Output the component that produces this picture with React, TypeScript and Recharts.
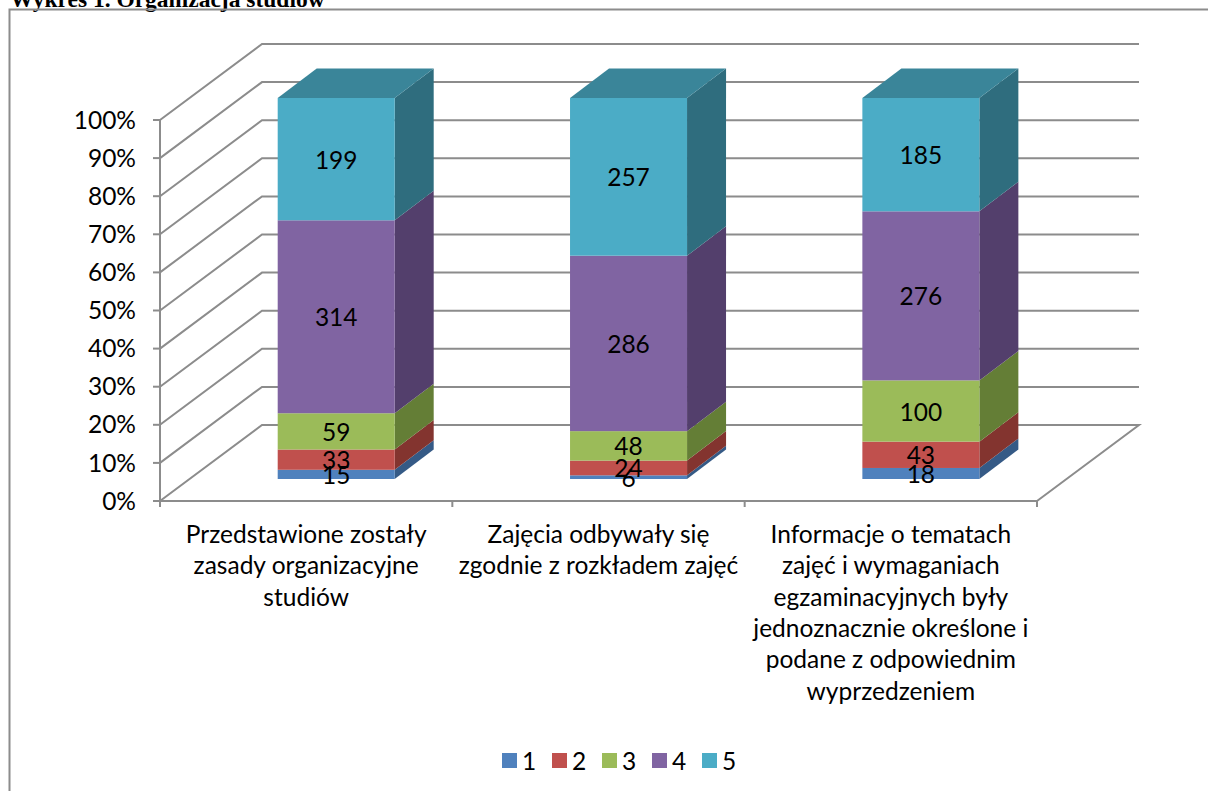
import { BarChart, Bar, XAxis, YAxis, CartesianGrid } from "recharts";

// --- data ---
const CATEGORY_LINES = [
  ["Przedstawione zostały", "zasady organizacyjne", "studiów"],
  ["Zajęcia odbywały się", "zgodnie z rozkładem zajęć"],
  [
    "Informacje o tematach",
    "zajęć i wymaganiach",
    "egzaminacyjnych były",
    "jednoznacznie określone i",
    "podane z odpowiednim",
    "wyprzedzeniem",
  ],
];
const CATEGORIES = CATEGORY_LINES.map((l) => l.join(" "));

const SERIES_NAMES = ["1", "2", "3", "4", "5"];
const SERIES_1 = [15, 6, 18];
const SERIES_2 = [33, 24, 43];
const SERIES_3 = [59, 48, 100];
const SERIES_4 = [314, 286, 276];
const SERIES_5 = [199, 257, 185];
const SERIES_VALUES = [SERIES_1, SERIES_2, SERIES_3, SERIES_4, SERIES_5];
const SERIES_KEYS = ["s1", "s2", "s3", "s4", "s5"];

const Y_TICKS = [0, 0.1, 0.2, 0.3, 0.4, 0.5, 0.6, 0.7, 0.8, 0.9, 1];

// --- colours ---
const FRONT = ["#4F81BD", "#C0504D", "#9BBB59", "#8064A2", "#4BACC6"];
const SIDE = ["#355A86", "#83342F", "#647E36", "#533F6C", "#2F6D7E"];
const TOP_FACE = "#3A8599";
const GRID = "#8C8C8C";
const FONT = "Lato, 'Open Sans', sans-serif";

// --- layout ---
const W = 1208;
const H = 791;
const PLOT_LEFT = 160;
const PLOT_RIGHT = 1037;
const PLOT_TOP = 120;
const PLOT_BOTTOM = 501;
const PLOT_W = PLOT_RIGHT - PLOT_LEFT;
const Y_AXIS_W = 60;
const X_AXIS_H = 40;
const WALL_DX = 102;
const WALL_DY = 76;
const BAR_OFF_X = 30;
const BAR_OFF_Y = 22;
const DEPTH_X = 39;
const DEPTH_Y = 29.5;
const LABEL_SIZE = 24.5;
const LINE_H = 31.3;

const data = CATEGORIES.map((name, i) => {
  const row: Record<string, string | number> = { name };
  SERIES_KEYS.forEach((k, si) => {
    row[k] = SERIES_VALUES[si][i];
  });
  return row;
});

function GridLine3D(props: any) {
  const { x1, x2, y1 } = props;
  const bx = x1 + WALL_DX;
  const by = y1 - WALL_DY;
  const ex = x2 + WALL_DX;
  const isFloor = Math.abs(y1 - PLOT_BOTTOM) < 1;
  const d = isFloor
    ? `M${x1},${y1} L${bx},${by} L${ex},${by} L${x2},${y1}`
    : `M${x1},${y1} L${bx},${by} L${ex},${by}`;
  return <path key={props.key} d={d} fill="none" stroke={GRID} strokeWidth={2} />;
}

function makeShape(si: number) {
  return function Box(props: any) {
    const { x, y, width, height, payload } = props;
    if (width == null || height == null) return null;
    const fx = x + BAR_OFF_X;
    const fy = y - BAR_OFF_Y;
    const fr = fx + width;
    const fb = fy + height;
    const side = `M${fr},${fy} L${fr + DEPTH_X},${fy - DEPTH_Y} L${fr + DEPTH_X},${fb - DEPTH_Y} L${fr},${fb} Z`;
    const isTop = si === SERIES_KEYS.length - 1;

    let labels: any = null;
    if (isTop) {
      // labels of all segments go on top of every face
      const vals = SERIES_KEYS.map((k) => Number(payload[k]));
      const total = vals.reduce((a, b) => a + b, 0);
      const lowFrac = (total - vals[vals.length - 1]) / total;
      const pxPerUnit = height / (1 - lowFrac);
      const base = fb + lowFrac * pxPerUnit;
      let cum = 0;
      labels = vals.map((v, k) => {
        const mid = (cum + v / 2) / total;
        cum += v;
        return (
          <text
            key={k}
            x={fx + width / 2}
            y={base - mid * pxPerUnit}
            textAnchor="middle"
            dominantBaseline="central"
            fontSize={LABEL_SIZE}
            fontFamily={FONT}
            fill="#000"
          >
            {v}
          </text>
        );
      });
    }

    return (
      <g>
        <path d={side} fill={SIDE[si]} />
        {isTop && (
          <path
            d={`M${fx},${fy} L${fx + DEPTH_X},${fy - DEPTH_Y} L${fr + DEPTH_X},${fy - DEPTH_Y} L${fr},${fy} Z`}
            fill={TOP_FACE}
          />
        )}
        <rect x={fx} y={fy} width={width} height={height} fill={FRONT[si]} />
        {labels}
      </g>
    );
  };
}

function CategoryTick(props: any) {
  const { x, index } = props;
  const band = PLOT_W / CATEGORIES.length;
  const lines = CATEGORY_LINES[index] || [];
  return (
    <g>
      <line x1={x - band / 2} x2={x - band / 2} y1={PLOT_BOTTOM} y2={PLOT_BOTTOM + 6} stroke={GRID} strokeWidth={2} />
      {index === CATEGORIES.length - 1 && (
        <line x1={x + band / 2} x2={x + band / 2} y1={PLOT_BOTTOM} y2={PLOT_BOTTOM + 6} stroke={GRID} strokeWidth={2} />
      )}
      <text x={x} y={PLOT_BOTTOM + 42} textAnchor="middle" fontSize={LABEL_SIZE} fontFamily={FONT} fill="#000">
        {lines.map((l, i) => (
          <tspan key={i} x={x} dy={i === 0 ? 0 : LINE_H}>
            {l}
          </tspan>
        ))}
      </text>
    </g>
  );
}

export default function App() {
  return (
    <div style={{ position: "absolute", left: 0, top: 0, width: W, height: H, background: "#fff", overflow: "hidden" }}>
      <svg width={W} height={H} style={{ position: "absolute", left: 0, top: 0 }}>
        <text x={10} y={7} fontFamily="'Liberation Serif', serif" fontWeight="bold" fontSize={23.5} fill="#000">
          Wykres 1. Organizacja studiów
        </text>
        <path d={`M9.5,${H} L9.5,9.5 L${W},9.5`} fill="none" stroke={GRID} strokeWidth={2} />
      </svg>
      <div style={{ position: "absolute", left: 0, top: 0 }}>
        <BarChart
          width={W}
          height={H}
          data={data}
          stackOffset="expand"
          barCategoryGap="30%"
          margin={{
            top: PLOT_TOP,
            right: W - PLOT_RIGHT,
            bottom: H - PLOT_BOTTOM - X_AXIS_H,
            left: PLOT_LEFT - Y_AXIS_W,
          }}
        >
          <CartesianGrid vertical={false} horizontal={(p: any) => <GridLine3D {...p} />} />
          <XAxis
            dataKey="name"
            interval={0}
            height={X_AXIS_H}
            tickLine={false}
            axisLine={{ stroke: GRID, strokeWidth: 2 }}
            tick={<CategoryTick />}
          />
          <YAxis
            width={Y_AXIS_W}
            domain={[0, 1]}
            ticks={Y_TICKS}
            tickFormatter={(v: number) => `${Math.round(v * 100)}%`}
            tick={{ fontSize: LABEL_SIZE, fontFamily: FONT, fill: "#000" }}
            tickSize={7}
            tickMargin={17}
            tickLine={{ stroke: GRID, strokeWidth: 2 }}
            axisLine={{ stroke: GRID, strokeWidth: 2 }}
          />
          {SERIES_KEYS.map((k, si) => (
            <Bar
              key={k}
              dataKey={k}
              name={SERIES_NAMES[si]}
              stackId="a"
              fill={FRONT[si]}
              isAnimationActive={false}
              shape={makeShape(si)}
            />
          ))}
        </BarChart>
      </div>
      <div style={{ position: "absolute", left: 502, top: 745, display: "flex", fontFamily: FONT, fontSize: LABEL_SIZE }}>
        {SERIES_NAMES.map((n, si) => (
          <div key={n} style={{ width: 50, display: "flex", alignItems: "center", height: 30 }}>
            <span style={{ width: 15, height: 15, background: FRONT[si], marginRight: 5, display: "inline-block" }} />
            <span>{n}</span>
          </div>
        ))}
      </div>
    </div>
  );
}
